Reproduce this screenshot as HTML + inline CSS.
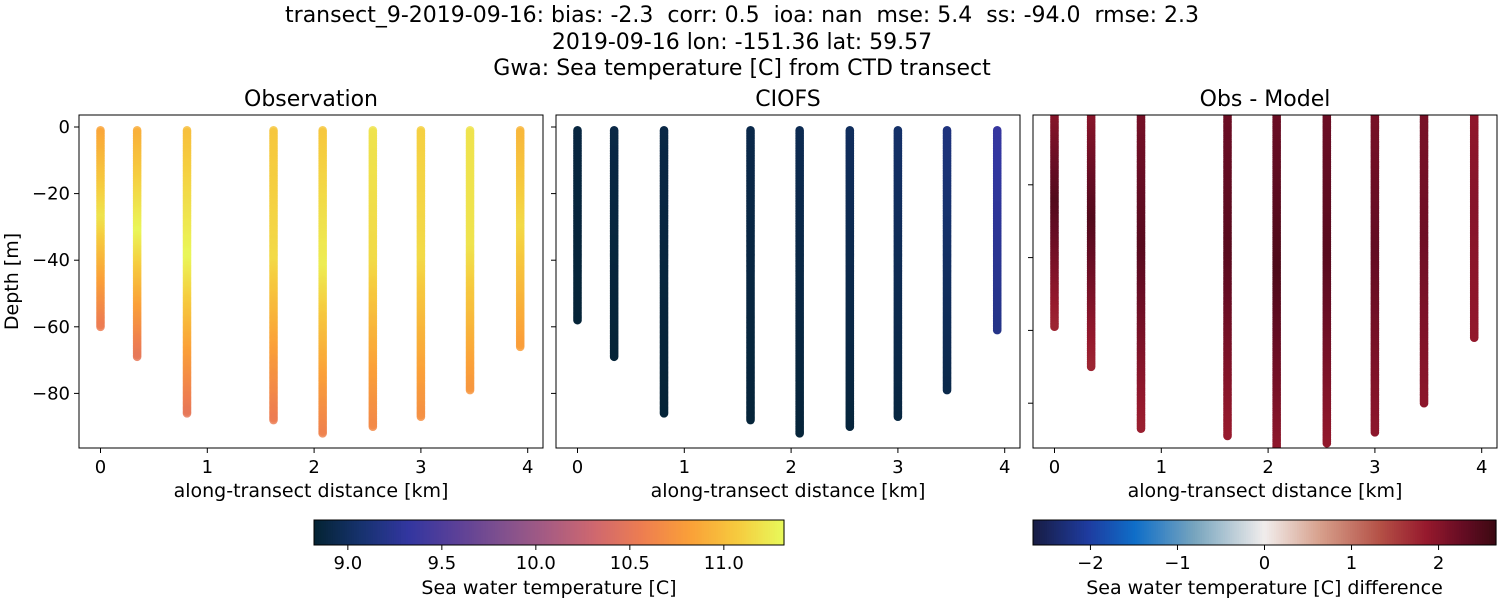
<!DOCTYPE html>
<html><head><meta charset="utf-8"><style>
body{margin:0;background:#fff;font-family:"Liberation Sans","DejaVu Sans",sans-serif}
svg text{font-family:"DejaVu Sans","Liberation Sans",sans-serif;fill:#000;white-space:pre}
</style></head><body>
<svg id="fig" width="1500" height="600" viewBox="0 0 1500 600" xmlns="http://www.w3.org/2000/svg">
<text x="742" y="22" font-size="22" text-anchor="middle" xml:space="preserve">transect_9-2019-09-16: bias: -2.3  corr: 0.5  ioa: nan  mse: 5.4  ss: -94.0  rmse: 2.3</text>
<text x="742" y="49" font-size="22" text-anchor="middle">2019-09-16 lon: -151.36 lat: 59.57</text>
<text x="742" y="75" font-size="22" text-anchor="middle">Gwa: Sea temperature [C] from CTD transect</text>
<g id="plots"></g>
</svg>
<script>
const stationKm=[0,0.343,0.81,1.62,2.08,2.55,3.0,3.46,3.93];
const obsDepth=[60,69,86,88,92,90,87,79,66];
const modelDepth=[58,69,86,88,92,90,87,79,61];
const diffDepth=[59,70,87,89,100,91,88,80,62];
const obsTop=[10.85,10.9,11.0,11.05,11.05,11.2,11.1,11.2,10.95];
const obsMid=[11.2,11.3,11.3,11.15,11.25,11.15,11.15,11.2,11.15];
const obsBot=[10.55,10.5,10.5,10.55,10.6,10.65,10.7,10.75,10.8];
const modTop=[8.88,8.9,8.9,8.92,8.95,9.0,9.05,9.15,9.35];
const modBot=[8.84,8.84,8.84,8.85,8.85,8.86,8.88,8.92,9.2];
const difTop=[1.9,1.9,2.1,2.2,2.2,2.2,2.1,2.1,1.9];
const difMid=[2.45,2.45,2.4,2.4,2.5,2.4,2.3,2.2,2.0];
const difBot=[1.75,1.75,1.8,1.85,1.85,1.9,1.95,1.95,1.9];
const xTicks=[0,1,2,3,4];
const yTicks=[0,-20,-40,-60,-80];
const cb1Ticks=[9.0,9.5,10.0,10.5,11.0];
const cb2Ticks=[-2,-1,0,1,2];

const NS="http://www.w3.org/2000/svg";
const root=document.getElementById('plots');
function mk(tag,attrs,parent){const e=document.createElementNS(NS,tag);for(const k in attrs)e.setAttribute(k,attrs[k]);(parent||root).appendChild(e);return e;}
function lerpStops(stops,t){t=Math.max(0,Math.min(1,t));for(let i=1;i<stops.length;i++){if(t<=stops[i][0]){const a=stops[i-1],b=stops[i];const f=(t-a[0])/(b[0]-a[0]);return `rgb(${[1,2,3].map(j=>Math.round(a[j]+(b[j]-a[j])*f)).join(',')})`;}}const l=stops[stops.length-1];return `rgb(${l[1]},${l[2]},${l[3]})`;}
const thermal=[[0,4,35,51],[0.1,22,50,110],[0.2,50,54,160],[0.3,90,64,152],[0.4,128,80,142],[0.5,168,92,130],[0.6,208,104,110],[0.7,238,126,80],[0.8,250,160,56],[0.9,246,202,62],[1,232,250,91]];
const balance=[[0,24,28,67],[0.12,30,60,160],[0.22,15,110,200],[0.35,120,165,190],[0.5,241,237,236],[0.62,215,160,140],[0.75,180,80,70],[0.85,150,25,45],[0.93,100,12,35],[1,60,9,18]];
const tMin=8.82,tMax=11.32,dMin=-2.66,dMax=2.66;
const tc=v=>lerpStops(thermal,(v-tMin)/(tMax-tMin));
const dc=v=>lerpStops(balance,(v-dMin)/(dMax-dMin));

function panel(opt){
  const {x0,title,name,depths,top,mid,bot,cmap,yTop0,pxm,showY,startD,alpha}=opt;
  const L=x0,R=x0+464,T=115,B=448;
  const xs=k=>L+21.5+k*106.8;
  const ys=d=>yTop0+(-d)*pxm;
  const g=mk('g',{});
  
  
  mk('text',{x:(L+R)/2,y:106,'font-size':22,'text-anchor':'middle'},g).textContent=title;
  const clip=mk('clipPath',{id:'c'+name},g);mk('rect',{x:L,y:T,width:464,height:B-T},clip);
  const pts=mk('g',{'clip-path':`url(#c${name})`},g);
  stationKm.forEach((k,i)=>{
    const sg=mk('g',{},pts);
    
    
    const maxD=depths[i];
    for(let d=startD;d<=maxD;d+=0.5){
      const f=(d-startD)/(maxD-startD);
      const v=f<0.45?top[i]+(mid[i]-top[i])*(f/0.45):mid[i]+(bot[i]-mid[i])*((f-0.45)/0.55);
      mk('circle',{cx:xs(k),cy:ys(-d),r:4.3,fill:cmap(v),'fill-opacity':alpha},sg);
    }
  });
  const fr=mk('rect',{x:L,y:T,width:464,height:B-T,fill:'none',stroke:'#000','stroke-width':1},g);
  
  
  xTicks.forEach(t=>{mk('line',{x1:xs(t),x2:xs(t),y1:B,y2:B+5,stroke:'#000'},g);mk('text',{x:xs(t),y:B+25,'font-size':18,'text-anchor':'middle'},g).textContent=t;});
  yTicks.forEach(t=>{const y=ys(t);if(y<T||y>B)return;mk('line',{x1:L-5,x2:L,y1:y,y2:y,stroke:'#000'},g);if(showY)mk('text',{x:L-9,y:y+6,'font-size':18,'text-anchor':'end'},g).textContent=String(t).replace('-','\u2212');});
  const xl=mk('text',{x:(L+R)/2,y:497,'font-size':19,'text-anchor':'middle'},g);xl.textContent='along-transect distance [km]';
  
  
  if(showY){const yl=mk('text',{x:0,y:0,'font-size':19,'text-anchor':'middle',transform:`translate(18,${(T+B)/2}) rotate(-90)`},g);yl.textContent='Depth [m]';
    
    }
}
panel({x0:79,title:'Observation',name:'observation',depths:obsDepth,top:obsTop,mid:obsMid,bot:obsBot,cmap:tc,yTop0:127,pxm:3.33,showY:true,startD:1,alpha:0.85});
panel({x0:556,title:'CIOFS',name:'ciofs',depths:modelDepth,top:modTop,mid:modTop.map((v,i)=>(v+modBot[i])/2),bot:modBot,cmap:tc,yTop0:127,pxm:3.33,showY:false,startD:1,alpha:1});
panel({x0:1033,title:'Obs - Model',name:'obs-minus-model',depths:diffDepth,top:difTop,mid:difMid,bot:difBot,cmap:dc,yTop0:112,pxm:3.64,showY:false,startD:-3,alpha:1});

function colorbar(L,W,vmin,vmax,cmap,ticks,label,name,fmt){
  const g=mk('g',{});
  
  
  const T=520,H=25,n=200;
  for(let i=0;i<n;i++){mk('rect',{x:L+W*i/n,y:T,width:W/n+0.6,height:H,fill:cmap(vmin+(vmax-vmin)*(i+0.5)/n)},g);}
  mk('rect',{x:L,y:T,width:W,height:H,fill:'none',stroke:'#000'},g);
  ticks.forEach(t=>{const x=L+(t-vmin)/(vmax-vmin)*W;mk('line',{x1:x,x2:x,y1:T+H,y2:T+H+5,stroke:'#000'},g);mk('text',{x:x,y:T+H+24,'font-size':18,'text-anchor':'middle'},g).textContent=fmt(t);});
  mk('text',{x:L+W/2,y:594,'font-size':19,'text-anchor':'middle'},g).textContent=label;
}
colorbar(314,470,tMin,tMax,tc,cb1Ticks,'Sea water temperature [C]','temperature-colorbar',t=>t.toFixed(1));
colorbar(1033,463,dMin,dMax,dc,cb2Ticks,'Sea water temperature [C] difference','difference-colorbar',t=>String(t).replace('-','\u2212'));
</script>
</body></html>
